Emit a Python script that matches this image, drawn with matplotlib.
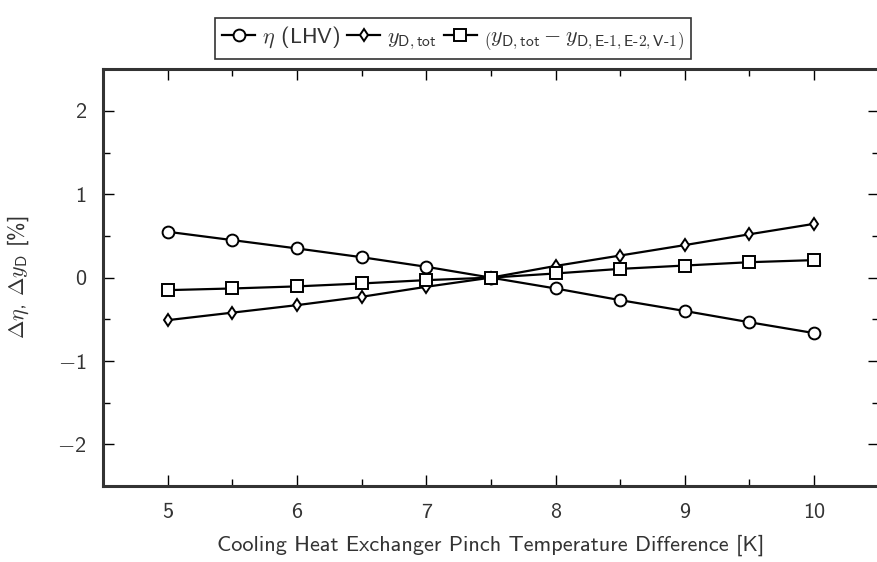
import numpy as np
import matplotlib
matplotlib.use('Agg')
import matplotlib.pyplot as plt
from matplotlib.ticker import MultipleLocator, FuncFormatter

plt.rcParams['font.family'] = ['cmss10', 'DejaVu Sans']
plt.rcParams['mathtext.fontset'] = 'cm'
plt.rcParams['font.size'] = 16

# pinch temperature difference [K]
pinch = [5, 5.5, 6, 6.5, 7, 7.5, 8, 8.5, 9, 9.5, 10]
# changes in [%]
d_eta = [0.55, 0.45, 0.35, 0.245, 0.13, 0.0, -0.13, -0.27, -0.40, -0.535, -0.665]
d_yd_tot = [-0.51, -0.42, -0.33, -0.23, -0.11, 0.0, 0.14, 0.265, 0.39, 0.52, 0.645]
d_yd_rest = [-0.15, -0.13, -0.105, -0.07, -0.03, 0.0, 0.05, 0.105, 0.145, 0.185, 0.21]

labels = [r'$\eta$ (LHV)',
          r'$y_{\mathsf{D,tot}}$',
          r'$\left(y_{\mathsf{D,tot}} - y_{\mathsf{D,E\text{-}1,E\text{-}2,V\text{-}1}}\right)$']

txt = '#333333'


def fmt(v, pos):
    # cmss10 has no usable minus glyph, take it from mathtext
    if v < 0:
        return r'$-$%d' % abs(round(v))
    return '%d' % round(v)


fig = plt.figure(figsize=(8.77, 5.62), dpi=100)
ax = fig.add_axes([0.1174, 0.135, 0.8846, 0.742])

style = dict(color='black', lw=1.6, markerfacecolor='white',
             markeredgecolor='black', markeredgewidth=1.4)
ax.plot(pinch, d_eta, marker='o', markersize=8.5, label=labels[0], **style)
ax.plot(pinch, d_yd_tot, marker='d', markersize=6.5, label=labels[1], **style)
ax.plot(pinch, d_yd_rest, marker='s', markersize=8, label=labels[2], **style)

ax.set_xlim(4.5, 10.5)
ax.set_ylim(-2.5, 2.5)
ax.xaxis.set_major_locator(MultipleLocator(1))
ax.xaxis.set_minor_locator(MultipleLocator(0.5))
ax.yaxis.set_major_locator(MultipleLocator(1))
ax.yaxis.set_minor_locator(MultipleLocator(0.5))
ax.yaxis.set_major_formatter(FuncFormatter(fmt))
ax.tick_params(which='both', direction='in', top=True, right=True,
               width=1.0, color='black', labelsize=16, labelcolor=txt)
ax.tick_params(which='major', length=8, pad=12)
ax.tick_params(which='minor', length=5)
for sp in ax.spines.values():
    sp.set_linewidth(2.2)
    sp.set_color('#333333')

ax.set_xlabel('Cooling Heat Exchanger Pinch Temperature Difference [K]',
              fontsize=16, color=txt, labelpad=9)
ax.set_ylabel(r'$\Delta\eta$, $\Delta y_{\mathsf{D}}$ [%]', fontsize=16,
              color=txt, labelpad=19)

leg = ax.legend(loc='upper center', bbox_to_anchor=(0.5165, 1 - 7 / 562),
                bbox_transform=fig.transFigure, ncol=3, frameon=True,
                fancybox=False, framealpha=1, edgecolor='#333333',
                handlelength=1.5, handletextpad=0.3, columnspacing=0.3,
                borderpad=0.3, fontsize=16)
leg.get_frame().set_linewidth(1.2)
for t in leg.get_texts():
    t.set_color(txt)

fig.savefig('out.png', dpi=100)
